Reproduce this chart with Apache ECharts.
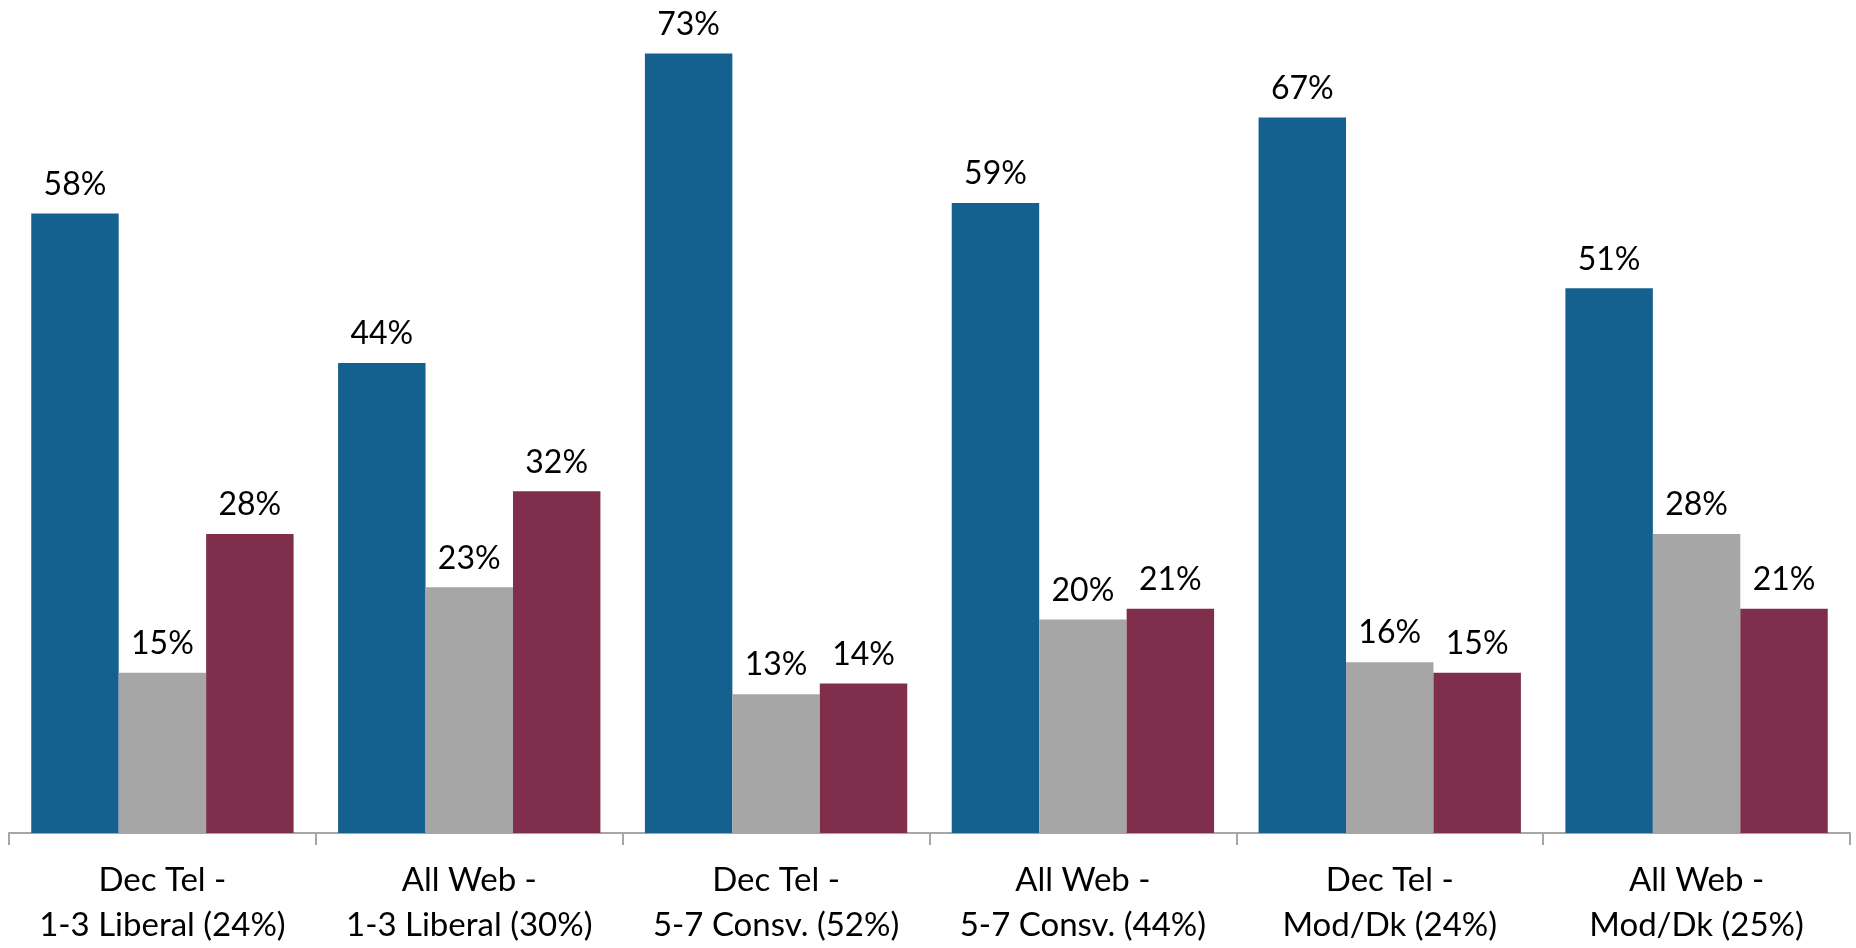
<!DOCTYPE html>
<html>
<head>
<meta charset="utf-8">
<script src="https://cdn.jsdelivr.net/npm/echarts@6/dist/echarts.min.js"></script>
<style>html,body{margin:0;padding:0;background:#fff;}#chart{width:1856px;height:948px;}</style>
</head>
<body>
<div id="chart"></div>
<script>
const categories = [
  "Dec Tel -\n1-3 Liberal (24%)",
  "All Web -\n1-3 Liberal (30%)",
  "Dec Tel -\n5-7 Consv. (52%)",
  "All Web -\n5-7 Consv. (44%)",
  "Dec Tel -\nMod/Dk (24%)",
  "All Web -\nMod/Dk (25%)"
];
const seriesA = [58, 44, 73, 59, 67, 51];
const seriesB = [15, 23, 13, 20, 16, 28];
const seriesC = [28, 32, 14, 21, 15, 21];

const font = 'Lato';
const labelCfg = {
  show: true, position: 'top', distance: 13,
  formatter: '{c}%', fontFamily: font, fontSize: 32, color: '#000'
};
const chart = echarts.init(document.getElementById('chart'));
chart.setOption({
  animation: false,
  grid: { left: 9, right: 6, top: 0, bottom: 113, containLabel: false },
  xAxis: {
    type: 'category', data: categories,
    axisLine: { lineStyle: { color: '#a6a6a6', width: 2 } },
    axisTick: { show: true, length: 12, lineStyle: { color: '#a6a6a6', width: 2 } },
    axisLabel: { fontFamily: font, fontSize: 33, color: '#000', lineHeight: 45, margin: 25, interval: 0 }
  },
  yAxis: { type: 'value', min: 0, max: 78, show: false, splitLine: { show: false } },
  series: [
    { type: 'bar', data: seriesA, itemStyle: { color: '#14608f' }, label: labelCfg, barGap: '0%', barCategoryGap: '14.5%' },
    { type: 'bar', data: seriesB, itemStyle: { color: '#a6a6a6' }, label: labelCfg, barGap: '0%', barCategoryGap: '14.5%' },
    { type: 'bar', data: seriesC, itemStyle: { color: '#7f2f4b' }, label: labelCfg, barGap: '0%', barCategoryGap: '14.5%' }
  ]
});
</script>
</body>
</html>
